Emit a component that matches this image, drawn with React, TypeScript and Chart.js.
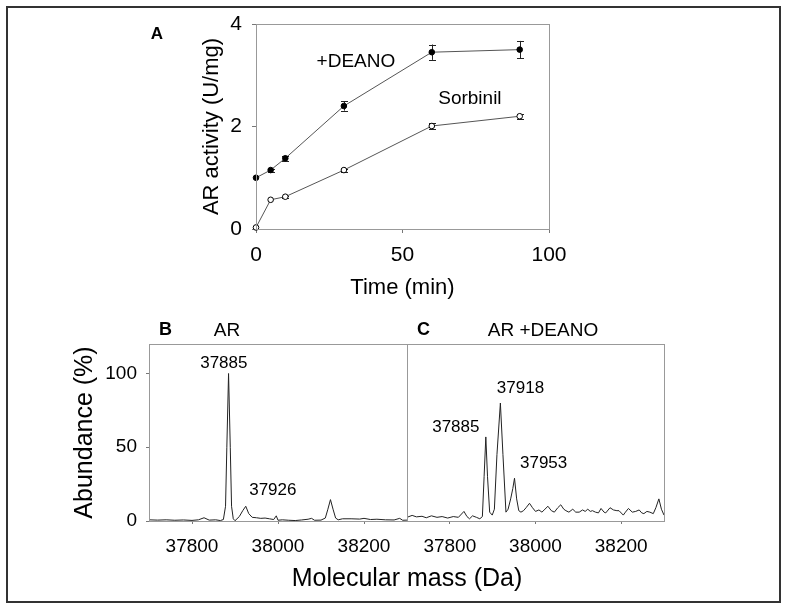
import React, { useEffect, useRef } from 'react';
import { Chart, registerables } from 'chart.js';

Chart.register(...registerables);

const FONT = '"Liberation Sans", Arial, Helvetica, sans-serif';
Chart.defaults.font.family = FONT;

// ---------- Panel A : AR activity vs time ----------
const timeMin = [0, 5, 10, 30, 60, 90];
const deanoActivity = [1.0, 1.15, 1.38, 2.4, 3.45, 3.5];
const deanoError = [0, 0.03, 0.05, 0.09, 0.15, 0.17];
const sorbinilActivity = [0.03, 0.57, 0.63, 1.15, 2.01, 2.2];
const sorbinilError = [0, 0, 0.02, 0.03, 0.05, 0.05];
const timeTicks = [0, 50, 100];
const activityTicks = [0, 2, 4];

// ---------- Panel B : AR spectrum ----------
const massB = [
  37700, 37720, 37740, 37760, 37780, 37800, 37815, 37828, 37840, 37855, 37866, 37873,
  37878, 37881, 37885, 37889, 37892, 37896, 37900, 37910, 37918, 37925, 37932, 37940,
  37950, 37960, 37970, 37980, 37990, 37996, 38000, 38010, 38025, 38040, 38055, 38070,
  38078, 38085, 38100, 38110, 38116, 38122, 38128, 38134, 38140, 38150, 38170, 38190,
  38200, 38215, 38230, 38250, 38270, 38283, 38290, 38300,
];
const abundanceB = [
  0.8, 0.6, 0.8, 0.5, 0.7, 0.4, 0.8, 2.2, 0.6, 0.8, 0.3, 1,
  10, 50, 100, 50, 10, 1.5, 0.2, 3, 7, 10, 5, 2.5,
  2.2, 1.8, 2, 1.5, 1, 3.5, 0.5, 0.8, 0.5, 0.3, 0.7, 1.2,
  1.8, 0.5, 0.6, 2, 8, 14.5, 8, 2, 0.8, 1.5, 1.5, 1.3,
  1.8, 1, 1.2, 0.8, 0.7, 1.8, 0.5, 0.6,
];

// ---------- Panel C : AR + DEANO spectrum ----------
const massC = [
  37700, 37712, 37722, 37735, 37745, 37757, 37770, 37782, 37795, 37808, 37820, 37833,
  37840, 37846, 37853, 37862, 37870, 37876, 37880, 37884, 37888, 37893, 37899, 37904,
  37910, 37918, 37924, 37931, 37936, 37942, 37947, 37951, 37956, 37961, 37966, 37972,
  37978, 37986, 37993, 38000, 38008, 38015, 38022, 38029, 38037, 38044, 38052, 38059,
  38066, 38071, 38078, 38087, 38094, 38102, 38110, 38116, 38122, 38128, 38133, 38140,
  38147, 38153, 38160, 38164, 38174, 38182, 38190, 38195, 38205, 38210, 38217, 38226,
  38234, 38242, 38248, 38253, 38260, 38267, 38275, 38281, 38288, 38294, 38300,
];
const abundanceC = [
  2.5, 3.8, 2.8, 3.2, 2.2, 3.5, 2.5, 3, 2, 3, 2.5, 6.5,
  3, 1.5, 3.5, 2.5, 1.5, 3, 30, 57, 30, 6, 4, 8,
  45, 80, 45, 6, 8, 15, 22, 29, 15, 7, 6, 7,
  9, 12, 9, 6.5, 7.5, 6, 8, 10, 7, 6, 9, 11,
  8, 7, 6, 8, 6, 6, 7.5, 6.5, 8, 6.5, 7, 6,
  5.5, 8.5, 6, 5.5, 9, 7.5, 7, 7, 4, 6, 8.5, 6,
  6.5, 7.5, 5.5, 5, 6.5, 6, 5, 9, 15, 8, 4,
];
const massTicks = [37800, 38000, 38200];
const abundanceTicks = [0, 50, 100];

// peak annotations (anchored in data coordinates)
const peakLabelsB = [
  { text: '37885', x: 37874, y: 106.8 },
  { text: '37926', x: 37988, y: 21 },
];
const peakLabelsC = [
  { text: '37918', x: 37965, y: 89.9 },
  { text: '37885', x: 37814, y: 63.5 },
  { text: '37953', x: 38019, y: 39.2 },
];
const curveLabelsA = [
  { text: '+DEANO', x: 34.1, y: 3.26 },
  { text: 'Sorbinil', x: 73.0, y: 2.54 },
];

// ---------- plugins ----------
const framePlugin = (color: string) => ({
  id: 'frame',
  afterDatasetsDraw(chart: any) {
    const { left, top, right, bottom } = chart.chartArea;
    const ctx = chart.ctx;
    ctx.save();
    ctx.strokeStyle = color;
    ctx.lineWidth = 1;
    ctx.strokeRect(Math.round(left) + 0.5, Math.round(top) + 0.5, Math.round(right - left), Math.round(bottom - top));
    ctx.restore();
  },
});

const errorBarPlugin = {
  id: 'errorBars',
  beforeDatasetsDraw(chart: any) {
    const ctx = chart.ctx;
    const yScale = chart.scales.y;
    ctx.save();
    ctx.strokeStyle = '#222';
    ctx.lineWidth = 1;
    chart.data.datasets.forEach((ds: any, i: number) => {
      const errs: number[] | undefined = ds.errorBars;
      if (!errs) return;
      const meta = chart.getDatasetMeta(i);
      meta.data.forEach((pt: any, j: number) => {
        const e = errs[j];
        if (!e) return;
        const v = ds.data[j].y;
        const x = Math.round(pt.x) + 0.5;
        const y1 = yScale.getPixelForValue(v + e);
        const y2 = yScale.getPixelForValue(v - e);
        ctx.beginPath();
        ctx.moveTo(x, y1);
        ctx.lineTo(x, y2);
        ctx.moveTo(x - 3.5, Math.round(y1) + 0.5);
        ctx.lineTo(x + 3.5, Math.round(y1) + 0.5);
        ctx.moveTo(x - 3.5, Math.round(y2) + 0.5);
        ctx.lineTo(x + 3.5, Math.round(y2) + 0.5);
        ctx.stroke();
      });
    });
    ctx.restore();
  },
};

const textPlugin = (items: { text: string; x: number; y: number }[], size: number) => ({
  id: 'texts',
  afterDraw(chart: any) {
    const ctx = chart.ctx;
    const xs = chart.scales.x;
    const ys = chart.scales.y;
    ctx.save();
    ctx.fillStyle = '#000';
    ctx.font = `${size}px ${FONT}`;
    ctx.textAlign = 'center';
    ctx.textBaseline = 'middle';
    items.forEach((it) => {
      ctx.fillText(it.text, xs.getPixelForValue(it.x), ys.getPixelForValue(it.y));
    });
    ctx.restore();
  },
});

// ---------- scale helpers ----------
const makeScale = (o: {
  min: number; max: number; ticks: number[]; size: number; tickLength: number; padding: number;
  fit: number; horizontal: boolean; title?: string; titleSize?: number; display?: boolean;
}) => ({
  type: 'linear',
  display: o.display !== false,
  position: o.horizontal ? 'bottom' : 'left',
  min: o.min,
  max: o.max,
  afterBuildTicks: (s: any) => {
    s.ticks = o.ticks.map((v) => ({ value: v }));
  },
  afterFit: (s: any) => {
    if (o.horizontal) s.height = o.fit;
    else s.width = o.fit;
  },
  grid: {
    display: true,
    drawOnChartArea: false,
    drawTicks: true,
    tickLength: o.tickLength,
    color: '#777',
    lineWidth: 1,
  },
  border: { display: false },
  ticks: {
    font: { family: FONT, size: o.size },
    color: '#000',
    padding: o.padding,
    maxRotation: 0,
    autoSkip: false,
    callback: (v: any) => String(v),
  },
  title: o.title
    ? { display: true, text: o.title, color: '#000', font: { family: FONT, size: o.titleSize }, padding: 0 }
    : { display: false },
});

const basePlugins = {
  legend: { display: false },
  tooltip: { enabled: false },
  title: { display: false },
};

function useChart(ref: React.RefObject<HTMLCanvasElement>, makeConfig: () => any) {
  useEffect(() => {
    if (!ref.current) return;
    const chart = new Chart(ref.current, makeConfig());
    return () => chart.destroy();
  }, []);
}

export default function App() {
  const refA = useRef<HTMLCanvasElement>(null);
  const refB = useRef<HTMLCanvasElement>(null);
  const refC = useRef<HTMLCanvasElement>(null);

  useChart(refA, () => ({
    type: 'line',
    data: {
      datasets: [
        {
          label: '+DEANO',
          data: timeMin.map((t, i) => ({ x: t, y: deanoActivity[i] })),
          errorBars: deanoError,
          borderColor: '#555',
          borderWidth: 1,
          pointRadius: 2.8,
          pointBackgroundColor: '#000',
          pointBorderColor: '#000',
          pointBorderWidth: 1,
          tension: 0,
        },
        {
          label: 'Sorbinil',
          data: timeMin.map((t, i) => ({ x: t, y: sorbinilActivity[i] })),
          errorBars: sorbinilError,
          borderColor: '#555',
          borderWidth: 1,
          pointRadius: 2.8,
          pointBackgroundColor: '#fff',
          pointBorderColor: '#000',
          pointBorderWidth: 1,
          tension: 0,
        },
      ],
    },
    options: {
      responsive: false,
      animation: false,
      devicePixelRatio: 1,
      clip: false,
      layout: { padding: { left: 199, right: 238, top: 24, bottom: 9 } },
      scales: {
        x: makeScale({ min: 0, max: 100, ticks: timeTicks, size: 21, tickLength: 4, padding: 10, fit: 72, horizontal: true, title: 'Time (min)', titleSize: 22 }),
        y: makeScale({ min: 0, max: 4, ticks: activityTicks, size: 21, tickLength: 4, padding: 10, fit: 57, horizontal: false, title: 'AR activity (U/mg)', titleSize: 22 }),
      },
      plugins: basePlugins,
    },
    plugins: [framePlugin('#999'), errorBarPlugin, textPlugin(curveLabelsA, 19)],
  }));

  const spectrumConfig = (mass: number[], ab: number[], labels: any[], left: number, right: number, yFit: number, showY: boolean) => ({
    type: 'line',
    data: {
      datasets: [
        {
          data: mass.map((m, i) => ({ x: m, y: ab[i] })),
          borderColor: '#222',
          borderWidth: 1,
          pointRadius: 0,
          tension: 0,
        },
      ],
    },
    options: {
      responsive: false,
      animation: false,
      devicePixelRatio: 1,
      layout: { padding: { left, right, top: 44, bottom: 39 } },
      scales: {
        x: makeScale({ min: 37700, max: 38300, ticks: massTicks, size: 19, tickLength: 3, padding: 11, fit: 50, horizontal: true }),
        y: makeScale({ min: 0, max: 120, ticks: abundanceTicks, size: 19, tickLength: 3, padding: 9, fit: yFit, horizontal: false, title: 'Abundance (%)', titleSize: 25, display: showY }),
      },
      plugins: basePlugins,
    },
    plugins: [framePlugin('#999'), textPlugin(labels, 17)],
  });

  useChart(refB, () => spectrumConfig(massB, abundanceB, peakLabelsB, 70, 3, 79, true));
  useChart(refC, () => spectrumConfig(massC, abundanceC, peakLabelsC, 3, 123, 0, false));

  const label = (text: string, x: number, y: number, size: number, bold = false) => (
    <div
      style={{
        position: 'absolute',
        left: x,
        top: y,
        transform: 'translate(-50%, -50%)',
        fontSize: size,
        lineHeight: 1,
        fontWeight: bold ? 'bold' : 'normal',
        whiteSpace: 'nowrap',
        color: '#000',
        fontFamily: FONT,
      }}
    >
      {text}
    </div>
  );

  return (
    <div style={{ position: 'absolute', left: 0, top: 0, width: 787, height: 610, background: '#fff', overflow: 'hidden' }}>
      <div
        style={{
          position: 'absolute',
          left: 6,
          top: 6,
          width: 775,
          height: 597,
          border: '2px solid #333',
          boxSizing: 'border-box',
        }}
      />
      <canvas ref={refA} width={787} height={310} style={{ position: 'absolute', left: 0, top: 0, width: 787, height: 310 }} />
      <canvas ref={refB} width={410} height={310} style={{ position: 'absolute', left: 0, top: 300, width: 410, height: 310 }} />
      <canvas ref={refC} width={383} height={310} style={{ position: 'absolute', left: 404, top: 300, width: 383, height: 310 }} />
      {label('A', 157, 33, 17, true)}
      {label('B', 165.5, 329, 18, true)}
      {label('AR', 227, 329, 19)}
      {label('C', 423.5, 329, 18, true)}
      {label('AR +DEANO', 543, 329, 19)}
      {label('Molecular mass (Da)', 407, 577, 25)}
    </div>
  );
}
